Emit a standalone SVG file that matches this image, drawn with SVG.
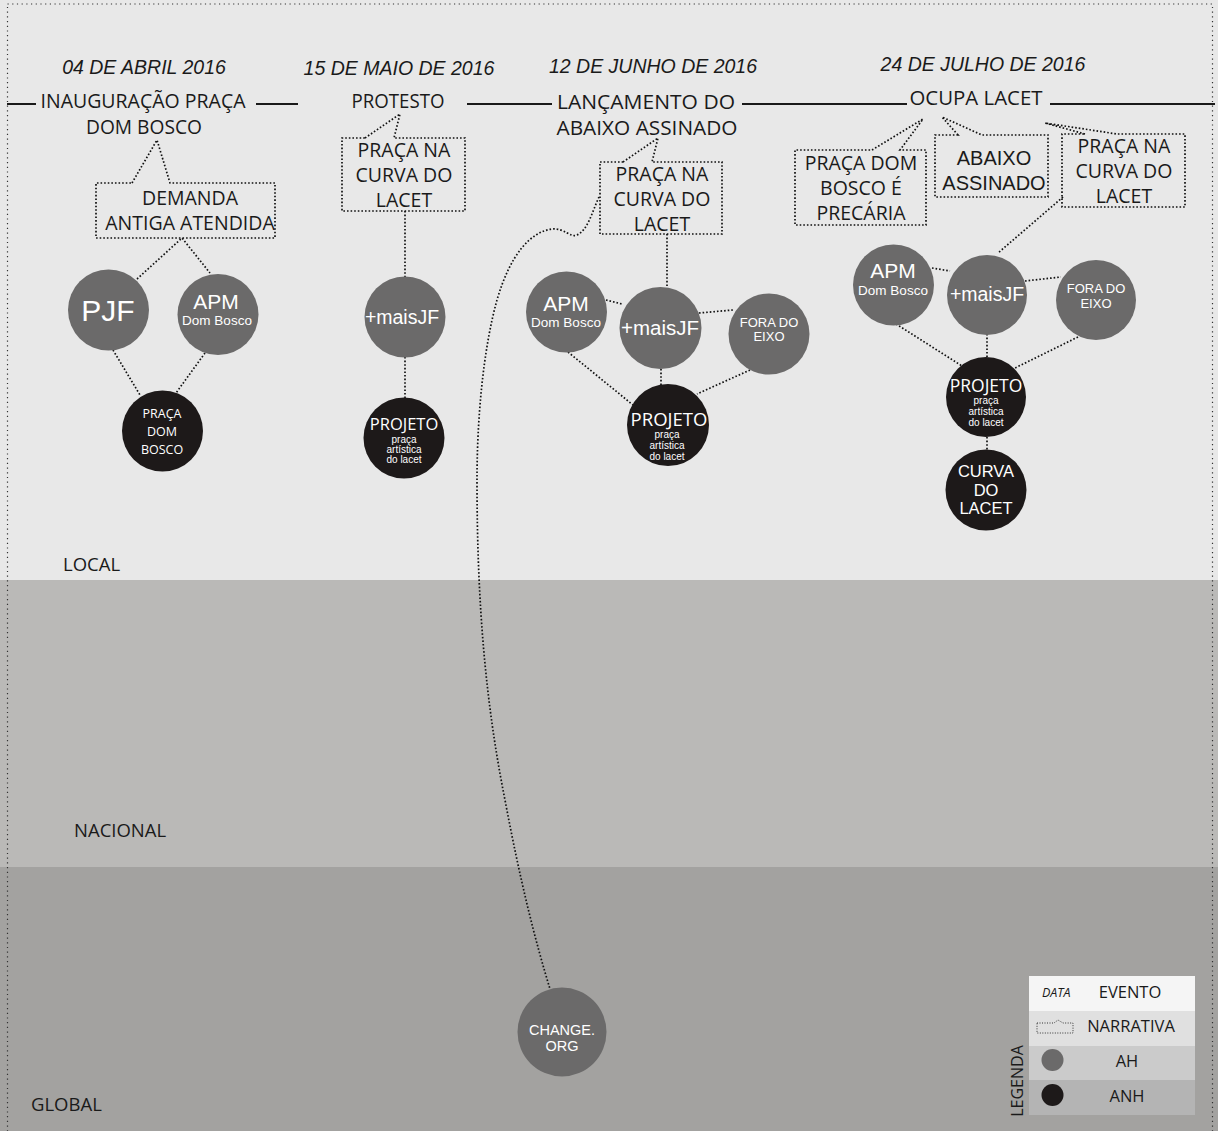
<svg xmlns="http://www.w3.org/2000/svg" width="1218" height="1131" viewBox="0 0 1218 1131">
<style>
.dot{fill:none;stroke:#111;stroke-width:1.7;stroke-dasharray:1.6 2}
.box{fill:none;stroke:#111;stroke-width:1.7;stroke-dasharray:1.6 2}
.ev{font-family:"Open Sans","Noto Sans",sans-serif;font-size:20px;fill:#1a1a1a;text-anchor:middle}
.dt{font-family:"Liberation Sans",Arial,sans-serif;font-size:19.5px;font-style:italic;fill:#1a1a1a;text-anchor:middle}
.nar{font-family:"Open Sans","Noto Sans",sans-serif;font-size:19.5px;fill:#1a1a1a;text-anchor:middle}
.band{font-family:"Open Sans","Noto Sans",sans-serif;font-size:18.5px;fill:#1a1a1a}
.ah{fill:#6b6a6a}
.anh{fill:#1d1919}
.ct{font-family:"Liberation Sans",Arial,sans-serif;fill:#fff;text-anchor:middle}
.co{font-family:"Open Sans","Noto Sans",sans-serif;fill:#fff;text-anchor:middle}
.tl{stroke:#1a1a1a;stroke-width:2}
.lg{font-family:"Open Sans","Noto Sans",sans-serif;font-size:16.5px;fill:#1a1a1a;text-anchor:middle}
</style>
<!-- bands -->
<rect x="0" y="0" width="1218" height="580" fill="#e8e8e8"/>
<rect x="0" y="580" width="1218" height="287" fill="#bab9b7"/>
<rect x="0" y="867" width="1218" height="264" fill="#a3a2a0"/>
<rect x="7.5" y="4" width="1205" height="1140" fill="none" stroke="#333" stroke-width="1.2" stroke-dasharray="1.2 3.5"/>
<text class="band" x="63" y="571">LOCAL</text>
<text class="band" x="74" y="837">NACIONAL</text>
<text class="band" x="31" y="1111">GLOBAL</text>

<!-- timeline -->
<g id="timeline">
<line class="tl" x1="7" y1="104" x2="36" y2="104"/>
<line class="tl" x1="256" y1="104" x2="298" y2="104"/>
<line class="tl" x1="467" y1="104" x2="552" y2="104"/>
<line class="tl" x1="742" y1="104" x2="907" y2="104"/>
<line class="tl" x1="1050" y1="104" x2="1215" y2="104"/>
</g>

<!-- events -->
<g id="event-inauguracao">
<text class="dt" x="144" y="74">04 DE ABRIL 2016</text>
<text class="ev" x="143" y="108" textLength="205" lengthAdjust="spacingAndGlyphs">INAUGURAÇÃO PRAÇA</text>
<text class="ev" x="144" y="134" textLength="116" lengthAdjust="spacingAndGlyphs">DOM BOSCO</text>
</g>
<g id="event-protesto">
<text class="dt" x="399" y="75">15 DE MAIO DE 2016</text>
<text class="ev" x="398" y="108" textLength="93" lengthAdjust="spacingAndGlyphs">PROTESTO</text>
</g>
<g id="event-lancamento">
<text class="dt" x="653" y="73">12 DE JUNHO DE 2016</text>
<text class="ev" x="646" y="109" textLength="178" lengthAdjust="spacingAndGlyphs">LANÇAMENTO DO</text>
<text class="ev" x="647" y="135" textLength="181" lengthAdjust="spacingAndGlyphs">ABAIXO ASSINADO</text>
</g>
<g id="event-ocupa">
<text class="dt" x="983" y="71">24 DE JULHO DE 2016</text>
<text class="ev" x="976" y="105" textLength="133" lengthAdjust="spacingAndGlyphs">OCUPA LACET</text>
</g>

<!-- narratives -->
<g id="nar-demanda">
<path class="box" d="M132,183 L157,140 L170,183 L275,183 L275,238 L96,238 L96,183 Z"/>
<text class="nar" x="190" y="205">DEMANDA</text>
<text class="nar" x="190" y="230">ANTIGA ATENDIDA</text>
</g>
<g id="nar-protesto">
<path class="box" d="M365,138 L400,114 L394,138 L465,138 L465,211 L342,211 L342,138 Z"/>
<text class="nar" x="404" y="157">PRAÇA NA</text>
<text class="nar" x="404" y="182">CURVA DO</text>
<text class="nar" x="404" y="207">LACET</text>
</g>
<g id="nar-lancamento">
<path class="box" d="M623,162 L658,138 L652,162 L722,162 L722,234 L600,234 L600,162 Z"/>
<text class="nar" x="662" y="181">PRAÇA NA</text>
<text class="nar" x="662" y="206">CURVA DO</text>
<text class="nar" x="662" y="231">LACET</text>
</g>
<g id="nar-precaria">
<path class="box" d="M872,150 L923,119 L900,150 L926,150 L926,225 L795,225 L795,150 Z"/>
<text class="nar" x="861" y="170">PRAÇA DOM</text>
<text class="nar" x="861" y="195">BOSCO É</text>
<text class="nar" x="861" y="220">PRECÁRIA</text>
</g>
<g id="nar-abaixo">
<path class="box" d="M958,135 L942,117 L982,135 L1048,135 L1048,197 L935,197 L935,135 Z"/>
<text class="nar" x="994" y="165" style="font-family:'Liberation Sans',Arial,sans-serif;font-size:20px">ABAIXO</text>
<text class="nar" x="994" y="190" style="font-family:'Liberation Sans',Arial,sans-serif;font-size:20px">ASSINADO</text>
</g>
<g id="nar-curva">
<path class="box" d="M1085,134 L1045,123 L1117,134 L1185,134 L1185,207 L1062,207 L1062,134 Z"/>
<text class="nar" x="1124" y="153">PRAÇA NA</text>
<text class="nar" x="1124" y="178">CURVA DO</text>
<text class="nar" x="1124" y="203">LACET</text>
</g>

<!-- connectors -->
<g id="connectors">
<polyline class="dot" points="137,279 182,238 210,273"/>
<line class="dot" x1="113" y1="350" x2="140" y2="395"/>
<line class="dot" x1="205" y1="353" x2="176" y2="393"/>
<line class="dot" x1="405" y1="211" x2="405" y2="277"/>
<line class="dot" x1="405" y1="357" x2="405" y2="398"/>
<line class="dot" x1="667" y1="234" x2="667" y2="288"/>
<line class="dot" x1="606" y1="300" x2="622" y2="304"/>
<line class="dot" x1="699" y1="313" x2="733" y2="310"/>
<line class="dot" x1="568" y1="352" x2="633" y2="405"/>
<line class="dot" x1="661" y1="369" x2="661" y2="385"/>
<line class="dot" x1="750" y1="370" x2="697" y2="394"/>
<line class="dot" x1="1063" y1="197" x2="998" y2="253"/>
<line class="dot" x1="932" y1="268" x2="950" y2="271"/>
<line class="dot" x1="1025" y1="281" x2="1061" y2="277"/>
<line class="dot" x1="893" y1="322" x2="962" y2="366"/>
<line class="dot" x1="987" y1="334" x2="987" y2="357"/>
<line class="dot" x1="1078" y1="337" x2="1015" y2="368"/>
<line class="dot" x1="987" y1="437" x2="987" y2="450"/>
<path class="dot" d="M599,197 C592,212 588,230 577,235 C570,238 565,228 552,229 C530,232 510,255 497,300 C483,350 477,420 477,480 C477,600 485,700 505,800 C520,880 535,940 550,989"/>
</g>

<!-- nodes: group 1 -->
<g id="pjf"><circle class="ah" cx="108.5" cy="310" r="40.5"/><text class="ct" x="108" y="321" font-size="30">PJF</text></g>
<g id="apm1"><circle class="ah" cx="218" cy="314.5" r="40.5"/><text class="ct" x="216" y="309" font-size="21">APM</text><text class="ct" x="217" y="325" font-size="13.5">Dom Bosco</text></g>
<g id="praca-dom-bosco"><circle class="anh" cx="162.5" cy="431" r="40.5"/><text class="co" x="162" y="418" font-size="12.5">PRAÇA</text><text class="co" x="162" y="436" font-size="12.5">DOM</text><text class="co" x="162" y="454" font-size="12.5">BOSCO</text></g>

<!-- group 2 -->
<g id="maisjf2"><circle class="ah" cx="405" cy="317" r="40.5"/><text class="ct" x="402" y="324" font-size="19.5">+maisJF</text></g>
<g id="projeto2"><circle class="anh" cx="404" cy="438" r="40.5"/><text class="co" x="404" y="430" font-size="16.5">PROJETO</text><text class="ct" x="404" y="443" font-size="10">praça</text><text class="ct" x="404" y="453" font-size="10">artística</text><text class="ct" x="404" y="463" font-size="10">do lacet</text></g>

<!-- group 3 -->
<g id="apm3"><circle class="ah" cx="566.5" cy="312" r="40.5"/><text class="ct" x="566" y="311" font-size="21">APM</text><text class="ct" x="566" y="327" font-size="13.5">Dom Bosco</text></g>
<g id="maisjf3"><circle class="ah" cx="660.5" cy="328" r="41"/><text class="ct" x="660" y="335" font-size="20.5">+maisJF</text></g>
<g id="fora3"><circle class="ah" cx="769" cy="334" r="40.5"/><text class="ct" x="769" y="327" font-size="13">FORA DO</text><text class="ct" x="769" y="341" font-size="13">EIXO</text></g>
<g id="projeto3"><circle class="anh" cx="668" cy="425" r="41"/><text class="co" x="669" y="426" font-size="18.5">PROJETO</text><text class="ct" x="667" y="438" font-size="10">praça</text><text class="ct" x="667" y="449" font-size="10">artística</text><text class="ct" x="667" y="460" font-size="10">do lacet</text></g>

<!-- group 4 -->
<g id="apm4"><circle class="ah" cx="893.5" cy="285" r="40.5"/><text class="ct" x="893" y="278" font-size="21">APM</text><text class="ct" x="893" y="295" font-size="13.5">Dom Bosco</text></g>
<g id="maisjf4"><circle class="ah" cx="987" cy="295" r="40"/><text class="ct" x="987" y="301" font-size="19.5">+maisJF</text></g>
<g id="fora4"><circle class="ah" cx="1096" cy="300" r="40"/><text class="ct" x="1096" y="293" font-size="13">FORA DO</text><text class="ct" x="1096" y="308" font-size="13">EIXO</text></g>
<g id="projeto4"><circle class="anh" cx="986" cy="397" r="40"/><text class="co" x="986" y="392" font-size="17.5">PROJETO</text><text class="ct" x="986" y="404" font-size="10">praça</text><text class="ct" x="986" y="415" font-size="10">artística</text><text class="ct" x="986" y="426" font-size="10">do lacet</text></g>
<g id="curva4"><circle class="anh" cx="986" cy="490" r="40.5"/><text class="ct" x="986" y="477" font-size="16.5">CURVA</text><text class="ct" x="986" y="496" font-size="16.5">DO</text><text class="ct" x="986" y="514" font-size="16.5">LACET</text></g>

<!-- global -->
<g id="change-org"><circle class="ah" cx="562" cy="1032" r="44.5"/><text class="ct" x="562" y="1035" font-size="14.5">CHANGE.</text><text class="ct" x="562" y="1051" font-size="14.5">ORG</text></g>

<!-- legend -->
<g id="legend">
<rect x="1029" y="976" width="166" height="35" fill="#f5f5f5"/>
<rect x="1029" y="1011" width="166" height="35" fill="#e0e0e0"/>
<rect x="1029" y="1046" width="166" height="34" fill="#cbcbcb"/>
<rect x="1029" y="1080" width="166" height="35" fill="#b4b4b4"/>
<text x="1042" y="997" font-family="'Open Sans','Noto Sans',sans-serif" font-size="12.5" font-style="italic" fill="#1a1a1a">DATA</text>
<text class="lg" x="1130" y="998">EVENTO</text>
<path d="M1037,1023 L1054,1023 L1058,1020 L1063,1023 L1073,1023 L1073,1033 L1037,1033 Z" fill="none" stroke="#333" stroke-width="1" stroke-dasharray="1 1.5"/>
<text class="lg" x="1131" y="1032">NARRATIVA</text>
<circle class="ah" cx="1052.5" cy="1060" r="11"/>
<text class="lg" x="1127" y="1067">AH</text>
<circle class="anh" cx="1052.5" cy="1095" r="11"/>
<text class="lg" x="1127" y="1102">ANH</text>
<text transform="translate(1023,1081) rotate(-90)" font-family="'Open Sans','Noto Sans',sans-serif" font-size="16" fill="#1a1a1a" text-anchor="middle">LEGENDA</text>
</g>
</svg>
